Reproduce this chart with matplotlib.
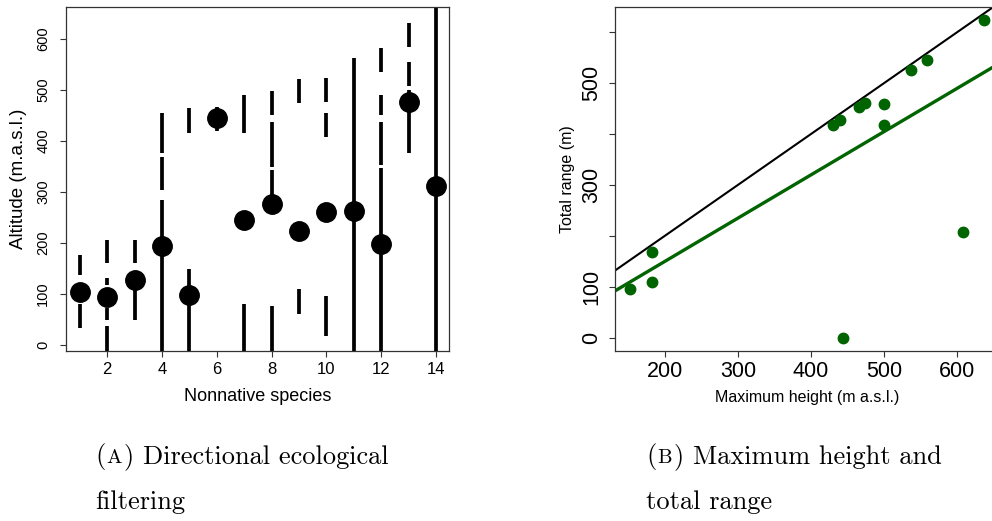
import numpy as np
import matplotlib.pyplot as plt

plt.rcParams['font.family'] = 'Liberation Sans'

# ---- panel A: altitude ranges of nonnative species ----
species = np.arange(1, 15)
mean_alt = [105, 94, 127, 194, 98, 445, 245, 276, 223, 261, 263, 199, 477, 311]
# visible pieces of each dashed range line (m a.s.l.)
alt_pieces = [
    [(33, 80), (138, 176)],
    [(-20, 37), (49, 73), (118, 131), (161, 206)],
    [(49, 143), (161, 206)],
    [(-20, 284), (304, 369), (376, 455)],
    [(-20, 149), (416, 465)],
    [(420, 467)],
    [(-20, 80), (416, 490)],
    [(-20, 76), (290, 343), (349, 437), (451, 498)],
    [(61, 110), (475, 522)],
    [(18, 96), (408, 455), (476, 523)],
    [(-20, 563)],
    [(-20, 347), (353, 437), (451, 490), (535, 582)],
    [(377, 500), (508, 555), (584, 631)],
    [(-20, 700)],
]

# ---- panel B: maximum height vs total range ----
max_height = [152, 183, 183, 430, 440, 466, 474, 499, 499, 537, 558, 636, 608, 443]
total_range = [96, 169, 109, 417, 427, 453, 461, 458, 417, 526, 545, 624, 208, 0]
b_yticks = [0, 100, 200, 300, 400, 500, 600]
b_ylabels = ['0', '100', '', '300', '', '500', '']

green = '#006400'
spine_col = '#333333'

W, H = 992, 521
fig = plt.figure(figsize=(W / 100, H / 100), dpi=100)

axA = fig.add_axes([66 / W, 1 - 350.7 / H, 383 / W, 343.7 / H])
axB = fig.add_axes([615.3 / W, 1 - 350.7 / H, 383 / W, 343.7 / H])

for x, pieces in zip(species, alt_pieces):
    lo = [p[0] for p in pieces]
    hi = [p[1] for p in pieces]
    axA.vlines([x] * len(pieces), lo, hi, colors='black', lw=2.7, capstyle='butt', zorder=2)
axA.plot(species, mean_alt, 'o', color='black', ms=14, zorder=3)
axA.set_xlim(0.5, 14.47)
axA.set_ylim(-11, 663)
axA.set_xticks(range(2, 15, 2))
axA.set_yticks(range(0, 601, 100))
axA.set_xlabel('Nonnative species', fontsize=13)
axA.set_ylabel('Altitude (m.a.s.l.)', fontsize=13.5)
axA.xaxis.set_label_coords(0.5, -0.108)
axA.yaxis.set_label_coords(-0.125, 0.5)
axA.yaxis.label.set_va('center')
axA.tick_params(axis='x', labelsize=12, pad=4)
axA.tick_params(axis='y', labelsize=10.5, pad=7, labelrotation=90)

axB.plot(max_height, total_range, 'o', color=green, ms=7.5, zorder=3)
slope, icpt = np.polyfit(max_height, total_range, 1)
axB.axline((0, 0), slope=1, color='black', lw=1.5, zorder=2)
axB.axline((0, icpt), slope=slope, color=green, lw=2.4, zorder=2)
axB.set_xlim(132.6, 655.8)
axB.set_ylim(-25, 649)
axB.set_xticks(range(200, 601, 100))
axB.set_yticks(b_yticks)
axB.set_yticklabels(b_ylabels)
axB.set_xlabel('Maximum height (m a.s.l.)', fontsize=11.5)
axB.set_ylabel('Total range (m)', fontsize=11.5)
axB.xaxis.set_label_coords(0.5, -0.114)
axB.yaxis.set_label_coords(-0.126, 0.5)
axB.yaxis.label.set_va('center')
axB.tick_params(axis='x', labelsize=15.5, pad=3)
axB.tick_params(axis='y', labelsize=15.5, pad=5, labelrotation=90)

for ax in (axA, axB):
    for s in ax.spines.values():
        s.set_color(spine_col)
        s.set_linewidth(0.9)
    ax.tick_params(length=4.3, width=0.8, color=spine_col)
    for lbl in ax.get_yticklabels():
        lbl.set_va('center')

# ---- captions ----
cap_size = 19
renderer = fig.canvas.get_renderer()


def caption(x_px, y_px, letter, line1, line2):
    fy = 1 - y_px / H
    t = fig.text(x_px / W, fy, '(', fontfamily='cmr10', fontsize=cap_size, va='baseline')
    x1 = t.get_window_extent(renderer).x1 + 1.5
    t = fig.text(x1 / W, fy, letter, fontfamily='cmr10', fontsize=cap_size * 0.78, va='baseline')
    x1 = t.get_window_extent(renderer).x1 + 1.5
    fig.text(x1 / W, fy, ')' + line1, fontfamily='cmr10', fontsize=cap_size, va='baseline')
    fig.text(x_px / W, 1 - (y_px + 46.5) / H, line2, fontfamily='cmr10', fontsize=cap_size,
             va='baseline')


caption(95, 463, 'A', ' Directional ecological', 'filtering')
caption(646, 463, 'B', ' Maximum height and', 'total range')

fig.savefig('out.png', dpi=100)
